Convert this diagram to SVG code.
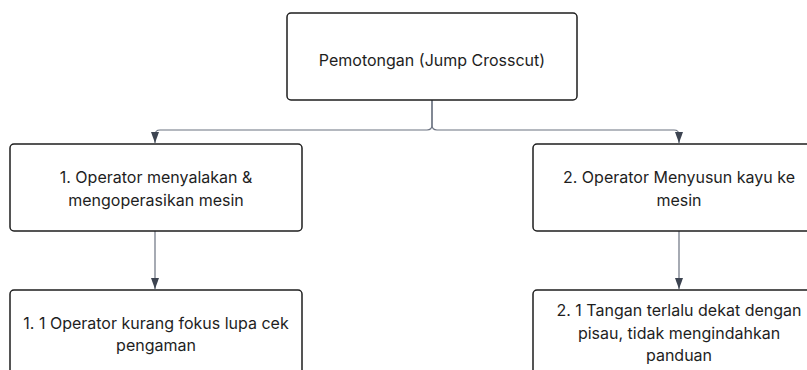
<svg xmlns="http://www.w3.org/2000/svg" width="807" height="370" viewBox="0 0 807 370">
<style>
.box{fill:#fff;stroke:#1e1e1e;stroke-width:1.5}
.t{font-family:Inter,"Liberation Sans",sans-serif;font-size:16px;fill:#1e1e1e;text-anchor:middle}
.c{fill:none;stroke:#6b7280;stroke-width:1.2}
</style>
<defs>
<marker id="ah" markerWidth="8" markerHeight="12" refX="4" refY="11" orient="auto-start-reverse" markerUnits="userSpaceOnUse" viewBox="0 0 8 12">
<path d="M0,0 L8,0 L4,11 Z" fill="#3d4451"/>
</marker>
</defs>
<rect width="807" height="370" fill="#fff"/>
<g id="connectors">
<path class="c" d="M432,100 V125 Q432,130 427,130 H160 Q155,130 155,135 V143"/>
<path class="c" d="M432,100 V125 Q432,130 437,130 H674 Q679,130 679,135 V143"/>
<path d="M151,132 L159,132 L155,143 Z" fill="#3d4451"/>
<path d="M675,132 L683,132 L679,143 Z" fill="#3d4451"/>
<path class="c" d="M155,231 V289"/>
<path d="M151,278 L159,278 L155,289 Z" fill="#3d4451"/>
<path class="c" d="M679,231 V289"/>
<path d="M675,278 L683,278 L679,289 Z" fill="#3d4451"/>
</g>
<g id="root">
<rect class="box" x="287" y="13" width="290" height="87" rx="4"/>
<text class="t" x="432" y="66">Pemotongan (Jump Crosscut)</text>
</g>
<g id="n1">
<rect class="box" x="10" y="144" width="292" height="87" rx="4"/>
<text class="t" x="156" y="183">1. Operator menyalakan &amp;</text>
<text class="t" x="156" y="206">mengoperasikan mesin</text>
</g>
<g id="n2">
<rect class="box" x="533" y="144" width="292" height="87" rx="4"/>
<text class="t" x="679" y="183">2. Operator Menyusun kayu ke</text>
<text class="t" x="679" y="206">mesin</text>
</g>
<g id="n11">
<rect class="box" x="10" y="290" width="292" height="100" rx="4"/>
<text class="t" x="156" y="329">1. 1 Operator kurang fokus lupa cek</text>
<text class="t" x="156" y="351">pengaman</text>
</g>
<g id="n21">
<rect class="box" x="533" y="290" width="292" height="100" rx="4"/>
<text class="t" x="679" y="316">2. 1 Tangan terlalu dekat dengan</text>
<text class="t" x="679" y="339">pisau, tidak mengindahkan</text>
<text class="t" x="679" y="361">panduan</text>
</g>
</svg>
